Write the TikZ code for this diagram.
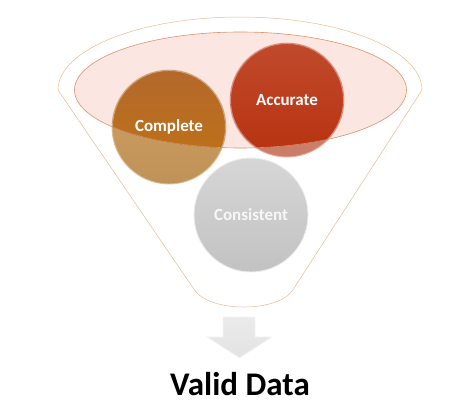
\documentclass[tikz,border=0pt]{standalone}
\usepackage{fontspec}
\setmainfont{Carlito}
\begin{document}
\begin{tikzpicture}[x=1pt,y=-1pt,
  funnel/.style={draw=funnelc,line width=0.5pt},
  ball/.style={circle,minimum size=114pt,inner sep=0pt,line width=0.9pt},
  lbl/.style={font=\bfseries\fontsize{17}{20}\selectfont,text=white},
]
\definecolor{funnelc}{HTML}{EBBA90}
\definecolor{rimc}{HTML}{D8946A}
\definecolor{pinkc}{HTML}{FBE6E2}
\definecolor{cpTop}{HTML}{B4682C}
\definecolor{cpBot}{HTML}{C07412}
\definecolor{cpLight}{HTML}{D4A262}
\definecolor{acTop}{HTML}{C04A2C}
\definecolor{acBot}{HTML}{B83210}
\definecolor{acLight}{HTML}{E08A72}
\definecolor{csTop}{HTML}{D6D6D6}
\definecolor{csBot}{HTML}{C2C2C2}
\useasboundingbox (0,0) rectangle (472,406);
% funnel outline
\draw[funnel] (58,90) arc[start angle=180,end angle=360,x radius=182,y radius=73]
  -- (292.8,290) .. controls (278,312.7) and (210,312.7) .. (194.5,290) -- cycle;
% inner ellipse fill
\fill[pinkc] (240.5,90) ellipse[x radius=166,y radius=58];
% circles (light, outside ellipse)
\node[ball,draw=cpLight!70!white,top color=cpLight,bottom color=cpLight!90!black] (complete) at (169,127) {};
\node[ball,draw=acLight!70!white,top color=acLight,bottom color=acLight!90!black] (accurate) at (287,100) {};
\node[ball,draw=white!85!gray,top color=csTop,bottom color=csBot] (consistent) at (251,215) {};
% darker parts inside the ellipse
\begin{scope}
  \clip (240.5,90) ellipse[x radius=166,y radius=58];
  \fill[top color=cpTop,bottom color=cpBot] (complete.center) circle[radius=56.5];
  \fill[top color=acTop,bottom color=acBot] (accurate.center) circle[radius=56.5];
  \draw[acTop!60!white,line width=0.9pt] (accurate.center) circle[radius=56.5];
  \draw[cpTop!60!white,line width=0.9pt] (complete.center) circle[radius=56.5];
\end{scope}
% ellipse border on top
\draw[draw=rimc,line width=0.6pt] (240.5,90) ellipse[x radius=166,y radius=58];
% labels
\node[lbl] (tcomplete) at (complete.center) {Complete};
\node[lbl] (taccurate) at (accurate.center) {Accurate};
\node[lbl,text=white!94!gray] (tconsistent) at (consistent.center) {Consistent};
% arrow
\path[draw=white!92!gray,line width=0.8pt,top color=white!84!gray,bottom color=white!78!gray]
  (223,317) -- (255,317) -- (255,337) -- (272,337) -- (239.5,358) -- (207,337) -- (223,337) -- cycle;
\node[font=\bfseries\fontsize{33}{38}\selectfont,text=black] (valid) at (240,384) {Valid Data};
\end{tikzpicture}
\end{document}
